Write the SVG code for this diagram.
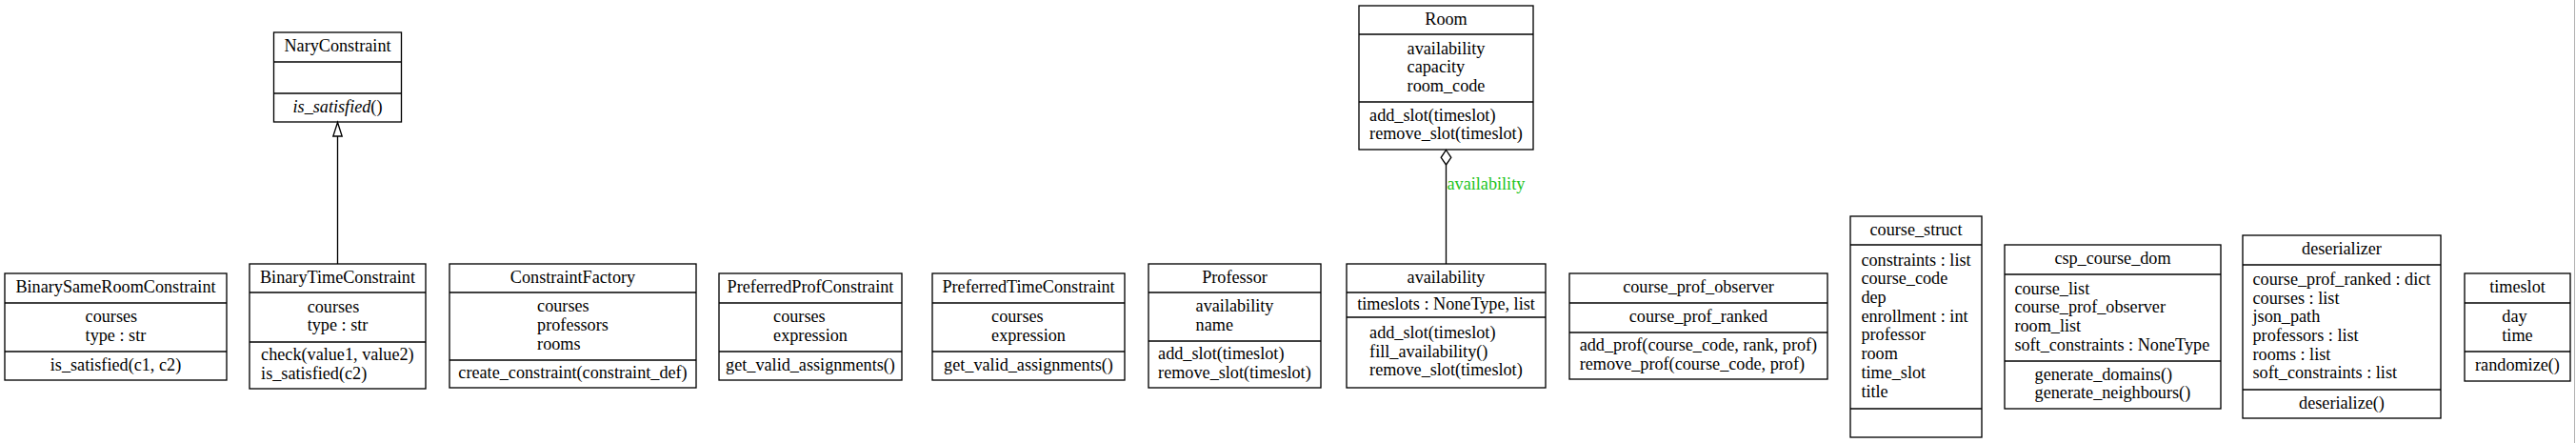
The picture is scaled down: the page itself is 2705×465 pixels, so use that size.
<svg xmlns="http://www.w3.org/2000/svg" width="2705" height="465" viewBox="0 0 2705 465">
<style>
  .box { fill: #ffffff; stroke: #000000; stroke-width: 1.33; }
  .sep { stroke: #000000; stroke-width: 1.33; fill: none; }
  text { font-family: "Liberation Serif", "Times New Roman", serif; font-size: 18.2px; fill: #000000; }
  .c { text-anchor: middle; }
  .edge { stroke: #000000; stroke-width: 1.33; fill: none; }
  .lbl { fill: #22c422; }
</style>
<rect x="0" y="0" width="2705" height="465" fill="#ffffff"/>
<line x1="2703.5" y1="0" x2="2703.5" y2="465" stroke="#b0b0b0" stroke-width="1"/>

<g id="BinarySameRoomConstraint">
  <rect class="box" x="5" y="287" width="233" height="112"/>
  <line class="sep" x1="5" y1="318" x2="238" y2="318"/>
  <line class="sep" x1="5" y1="369" x2="238" y2="369"/>
  <text class="c" x="121.5" y="307">BinarySameRoomConstraint</text>
  <text x="89.6" y="338.2">courses</text>
  <text x="89.6" y="357.9">type : str</text>
  <text class="c" x="121.5" y="388.5">is_satisfied(c1, c2)</text>
</g>

<g id="BinaryTimeConstraint">
  <rect class="box" x="262" y="277" width="185" height="131"/>
  <line class="sep" x1="262" y1="307" x2="447" y2="307"/>
  <line class="sep" x1="262" y1="359" x2="447" y2="359"/>
  <text class="c" x="354.5" y="296.5">BinaryTimeConstraint</text>
  <text x="322.7" y="327.7">courses</text>
  <text x="322.7" y="347.4">type : str</text>
  <text x="274.1" y="378.2">check(value1, value2)</text>
  <text x="274.1" y="397.9">is_satisfied(c2)</text>
</g>

<g id="NaryConstraint">
  <rect class="box" x="287.5" y="34" width="134" height="94"/>
  <line class="sep" x1="287.5" y1="65" x2="421.5" y2="65"/>
  <line class="sep" x1="287.5" y1="98" x2="421.5" y2="98"/>
  <text class="c" x="354.5" y="54">NaryConstraint</text>
  <text class="c" x="354.5" y="117.5"><tspan font-style="italic">is_satisfied</tspan>()</text>
</g>

<g id="ConstraintFactory">
  <rect class="box" x="472" y="277" width="259" height="130"/>
  <line class="sep" x1="472" y1="307" x2="731" y2="307"/>
  <line class="sep" x1="472" y1="378" x2="731" y2="378"/>
  <text class="c" x="601.5" y="296.5">ConstraintFactory</text>
  <text x="564.1" y="327.3">courses</text>
  <text x="564.1" y="347">professors</text>
  <text x="564.1" y="366.7">rooms</text>
  <text class="c" x="601.5" y="397">create_constraint(constraint_def)</text>
</g>

<g id="PreferredProfConstraint">
  <rect class="box" x="755" y="287" width="192" height="112"/>
  <line class="sep" x1="755" y1="318" x2="947" y2="318"/>
  <line class="sep" x1="755" y1="369" x2="947" y2="369"/>
  <text class="c" x="851" y="307">PreferredProfConstraint</text>
  <text x="812.1" y="338.2">courses</text>
  <text x="812.1" y="357.9">expression</text>
  <text class="c" x="851" y="388.5">get_valid_assignments()</text>
</g>

<g id="PreferredTimeConstraint">
  <rect class="box" x="979" y="287" width="202" height="112"/>
  <line class="sep" x1="979" y1="318" x2="1181" y2="318"/>
  <line class="sep" x1="979" y1="369" x2="1181" y2="369"/>
  <text class="c" x="1080" y="307">PreferredTimeConstraint</text>
  <text x="1041.1" y="338.2">courses</text>
  <text x="1041.1" y="357.9">expression</text>
  <text class="c" x="1080" y="388.5">get_valid_assignments()</text>
</g>

<g id="Professor">
  <rect class="box" x="1206" y="277" width="181" height="130"/>
  <line class="sep" x1="1206" y1="307" x2="1387" y2="307"/>
  <line class="sep" x1="1206" y1="358" x2="1387" y2="358"/>
  <text class="c" x="1296.5" y="296.5">Professor</text>
  <text x="1255.6" y="327.2">availability</text>
  <text x="1255.6" y="346.9">name</text>
  <text x="1216.1" y="377.2">add_slot(timeslot)</text>
  <text x="1216.1" y="396.9">remove_slot(timeslot)</text>
</g>

<g id="availability">
  <rect class="box" x="1414" y="277" width="209" height="130"/>
  <line class="sep" x1="1414" y1="307" x2="1623" y2="307"/>
  <line class="sep" x1="1414" y1="333" x2="1623" y2="333"/>
  <text class="c" x="1518.5" y="296.5">availability</text>
  <text class="c" x="1518.5" y="324.5">timeslots : NoneType, list</text>
  <text x="1438.1" y="355.1">add_slot(timeslot)</text>
  <text x="1438.1" y="374.5">fill_availability()</text>
  <text x="1438.1" y="394.2">remove_slot(timeslot)</text>
</g>

<g id="Room">
  <rect class="box" x="1427" y="6" width="183" height="151"/>
  <line class="sep" x1="1427" y1="36" x2="1610" y2="36"/>
  <line class="sep" x1="1427" y1="107" x2="1610" y2="107"/>
  <text class="c" x="1518.5" y="25.5">Room</text>
  <text x="1477.6" y="56.6">availability</text>
  <text x="1477.6" y="76.3">capacity</text>
  <text x="1477.6" y="96">room_code</text>
  <text x="1438.1" y="126.7">add_slot(timeslot)</text>
  <text x="1438.1" y="146.4">remove_slot(timeslot)</text>
</g>

<g id="course_prof_observer">
  <rect class="box" x="1648" y="287" width="271" height="111"/>
  <line class="sep" x1="1648" y1="318" x2="1919" y2="318"/>
  <line class="sep" x1="1648" y1="349" x2="1919" y2="349"/>
  <text class="c" x="1783.5" y="307">course_prof_observer</text>
  <text class="c" x="1783.5" y="338">course_prof_ranked</text>
  <text x="1658.7" y="368.2">add_prof(course_code, rank, prof)</text>
  <text x="1658.7" y="387.9">remove_prof(course_code, prof)</text>
</g>

<g id="course_struct">
  <rect class="box" x="1943" y="227" width="138" height="232"/>
  <line class="sep" x1="1943" y1="257" x2="2081" y2="257"/>
  <line class="sep" x1="1943" y1="429" x2="2081" y2="429"/>
  <text class="c" x="2012" y="246.5">course_struct</text>
  <text x="1954.4" y="278.5">constraints : list</text>
  <text x="1954.4" y="298.3">course_code</text>
  <text x="1954.4" y="318">dep</text>
  <text x="1954.4" y="337.7">enrollment : int</text>
  <text x="1954.4" y="357.4">professor</text>
  <text x="1954.4" y="377.1">room</text>
  <text x="1954.4" y="396.8">time_slot</text>
  <text x="1954.4" y="416.5">title</text>
</g>

<g id="csp_course_dom">
  <rect class="box" x="2105" y="257" width="227" height="172"/>
  <line class="sep" x1="2105" y1="288" x2="2332" y2="288"/>
  <line class="sep" x1="2105" y1="379" x2="2332" y2="379"/>
  <text class="c" x="2218.5" y="277">csp_course_dom</text>
  <text x="2115.4" y="308.5">course_list</text>
  <text x="2115.4" y="328.2">course_prof_observer</text>
  <text x="2115.4" y="347.9">room_list</text>
  <text x="2115.4" y="367.6">soft_constraints : NoneType</text>
  <text x="2136.6" y="398.7">generate_domains()</text>
  <text x="2136.6" y="418.4">generate_neighbours()</text>
</g>

<g id="deserializer">
  <rect class="box" x="2355" y="247" width="208" height="192"/>
  <line class="sep" x1="2355" y1="278" x2="2563" y2="278"/>
  <line class="sep" x1="2355" y1="409" x2="2563" y2="409"/>
  <text class="c" x="2459" y="267">deserializer</text>
  <text x="2365.5" y="298.8">course_prof_ranked : dict</text>
  <text x="2365.5" y="318.5">courses : list</text>
  <text x="2365.5" y="338.2">json_path</text>
  <text x="2365.5" y="357.9">professors : list</text>
  <text x="2365.5" y="377.6">rooms : list</text>
  <text x="2365.5" y="397.3">soft_constraints : list</text>
  <text class="c" x="2459" y="428.5">deserialize()</text>
</g>

<g id="timeslot">
  <rect class="box" x="2588" y="287" width="111" height="113"/>
  <line class="sep" x1="2588" y1="318" x2="2699" y2="318"/>
  <line class="sep" x1="2588" y1="369" x2="2699" y2="369"/>
  <text class="c" x="2643.5" y="307">timeslot</text>
  <text x="2627.3" y="338.2">day</text>
  <text x="2627.3" y="357.9">time</text>
  <text class="c" x="2643.5" y="389">randomize()</text>
</g>

<g id="connectors">
  <g id="BinaryTimeConstraint_to_NaryConstraint">
    <line class="edge" x1="354.5" y1="143" x2="354.5" y2="277"/>
    <polygon class="edge" points="354.5,128.5 349.8,143 359.2,143"/>
  </g>
  <g id="availability_to_Room">
    <line class="edge" x1="1518.5" y1="173" x2="1518.5" y2="277"/>
    <polygon class="edge" points="1518.5,157.5 1523.8,165.3 1518.5,173 1513.2,165.3"/>
    <text class="lbl" x="1519.5" y="198.5">availability</text>
  </g>
</g>
</svg>
